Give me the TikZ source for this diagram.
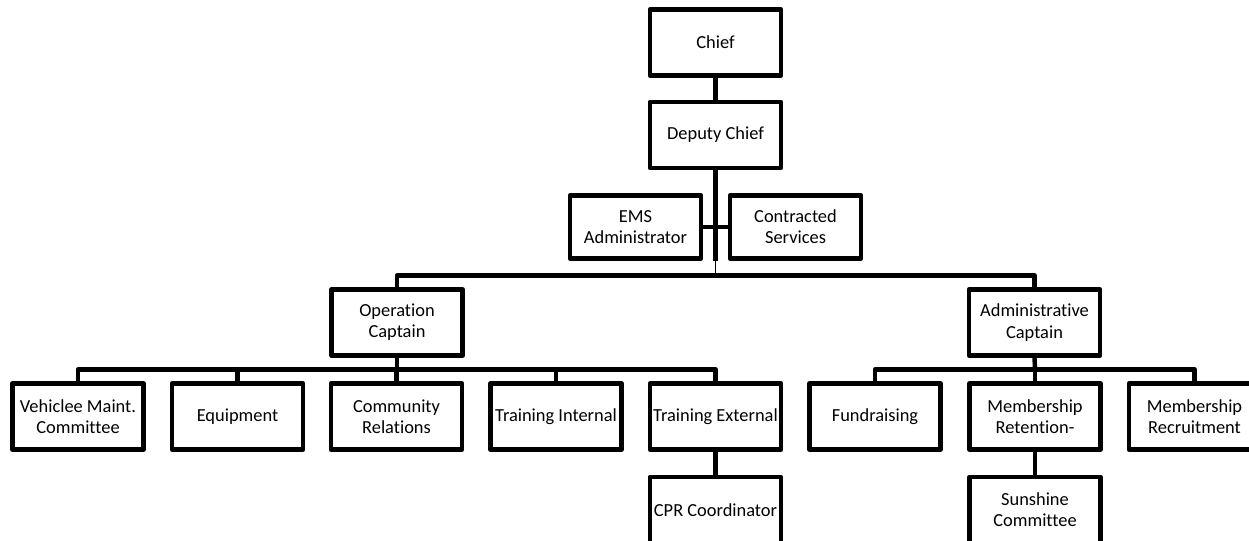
\documentclass[tikz,border=0pt]{standalone}
\usepackage{fontspec}
\setmainfont{Carlito}[Ligatures=NoCommon]
\begin{document}
\begin{tikzpicture}[x=0.75pt,y=-0.75pt,
  box/.style={draw=black,line width=3.3pt,line join=round,rectangle,minimum width=98.5pt,minimum height=49.5pt,inner sep=0pt,align=center,font=\fontsize{13.8}{15.9}\selectfont,text=black},
  conn/.style={draw=black,line width=3.3pt,line join=round},
  thinconn/.style={draw=black,line width=1pt}]
\useasboundingbox (0,0) rectangle (1249,541);
\clip (0,0) rectangle (1249,541);
\fill[white] (0,0) rectangle (1249,541);
% nodes
\node[box] (chief) at (715.5,42.5) {Chief};
\node[box] (deputy) at (715.5,135) {Deputy Chief};
\node[box,minimum height=47pt] (ems) at (635.5,227) {EMS\\Administrator};
\node[box,minimum height=47pt] (contr) at (795.5,227) {Contracted\\Services};
\node[box] (opcap) at (397,322.5) {Operation\\Captain};
\node[box] (admcap) at (1034.5,322.5) {Administrative\\Captain};
\node[box] (veh) at (78,416.5) {Vehiclee Maint.\\Committee};
\node[box] (equip) at (237.5,416.5) {Equipment};
\node[box] (comm) at (396.5,416.5) {Community\\Relations};
\node[box] (tint) at (556,416.5) {Training Internal};
\node[box] (text) at (715.5,416.5) {Training External};
\node[box] (fund) at (875,416.5) {Fundraising};
\node[box] (mret) at (1035,416.5) {Membership\\Retention-};
\node[box] (mrec) at (1194.5,416.5) {Membership\\Recruitment};
\node[box] (cpr) at (715.5,510) {CPR Coordinator};
\node[box] (sun) at (1035,510) {Sunshine\\Committee};
% junction coordinates
\coordinate (b1) at (715.5,275.5);
\coordinate (b2) at (397,369.5);
\coordinate (b3) at (1035,369.5);
% connectors
\draw[conn] (chief) -- (deputy);
\draw[conn] (deputy.south) -- (deputy.south |- ems.south);
\draw[thinconn] (deputy.south |- ems.south) -- (b1);
\draw[conn] (ems.east) -- (contr.west);
\draw[conn] (opcap.north) |- (b1) -| (admcap.north);
\draw[conn] (opcap.south) -- (b2);
\draw[conn] (veh.north) |- (b2) -| (text.north);
\draw[conn] (equip.north) -- (equip.north |- b2);
\draw[conn] (comm.north) -- (comm.north |- b2);
\draw[conn] (tint.north) -- (tint.north |- b2);
\draw[conn] (admcap.south) -- (b3);
\draw[conn] (fund.north) |- (b3) -| (mrec.north);
\draw[conn] (mret.north) -- (mret.north |- b3);
\draw[conn] (text) -- (cpr);
\draw[conn] (mret) -- (sun);
\end{tikzpicture}
\end{document}
